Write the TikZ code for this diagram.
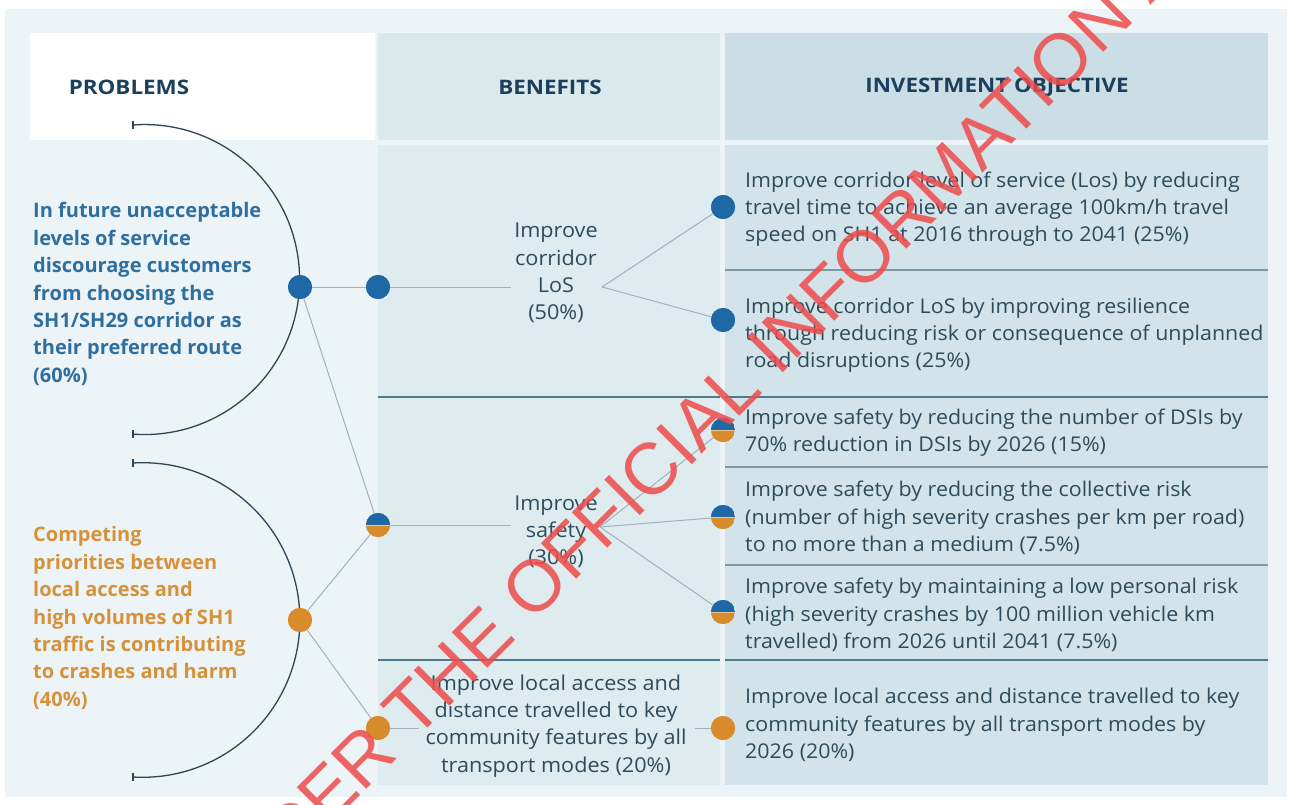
\documentclass[tikz,border=0pt]{standalone}
\usepackage{fontspec}
\setmainfont{Open Sans}
\newfontfamily\widefont{Open Sans}[FakeStretch=1.055]
\newfontfamily\headfont{Open Sans}[FakeStretch=1.12]
\newfontfamily\wmfont{Liberation Sans}

\definecolor{panelbg}{HTML}{EDF4F7}
\definecolor{benhead}{HTML}{DAE9EC}
\definecolor{benbody}{HTML}{DEECEF}
\definecolor{invhead}{HTML}{CCDEE5}
\definecolor{invbody}{HTML}{D2E3E9}
\definecolor{sepdark}{HTML}{4E7A8E}
\definecolor{seplight}{HTML}{7E98A6}
\definecolor{headtext}{HTML}{1B3F5C}
\definecolor{bodytext}{HTML}{2D4B5B}
\definecolor{probblue}{HTML}{2F6FA0}
\definecolor{probor}{HTML}{D5923A}
\definecolor{dotblue}{HTML}{1E69A5}
\definecolor{dotorange}{HTML}{D88B2B}
\definecolor{arccol}{HTML}{2E4556}
\definecolor{linkcol}{HTML}{A2B0B8}
\definecolor{wmred}{HTML}{EE4B4B}

\tikzset{
  head/.style={font=\headfont\fontsize{20}{22}\selectfont\bfseries, text=headtext},
  probtext/.style={anchor=west, align=left, inner sep=0pt,
    font=\fontsize{20}{27.4}\selectfont\bfseries},
  bentext/.style={align=center, inner sep=3pt, text=bodytext,
    font=\widefont\fontsize{20.5}{27.2}\selectfont},
  objtext/.style={anchor=west, align=left, inner sep=0pt, text=bodytext,
    font=\widefont\fontsize{20.3}{27.2}\selectfont},
  dot/.style={circle, inner sep=0pt, minimum size=24pt},
  bluedot/.style={dot, fill=dotblue},
  orangedot/.style={dot, fill=dotorange},
  mixdot/.style={dot, path picture={
      \fill[dotblue] (path picture bounding box.north west) rectangle (path picture bounding box.east);
      \fill[dotorange] (path picture bounding box.west) rectangle (path picture bounding box.south east);
      \draw[white, opacity=0.5, line width=0.8pt] (path picture bounding box.west) -- (path picture bounding box.east);
  }},
  link/.style={draw=linkcol, line width=1pt},
  bracket/.style={draw=arccol, line width=1.3pt},
  rowsep/.style={draw=seplight, line width=1.2pt},
  mainsep/.style={draw=sepdark, line width=1.4pt},
  watermark/.style={text=wmred, opacity=0.85, rotate=45, inner sep=0pt,
    font=\wmfont\fontsize{73}{73}\selectfont}
}

\begin{document}
\begin{tikzpicture}[x=1pt, y=1pt]
  \useasboundingbox (0,0) rectangle (1290,-805);

  % page and panel
  \fill[white] (0,0) rectangle (1290,-805);
  \fill[panelbg] (5,-9) rectangle (1287,-797);

  % column backgrounds
  \fill[white] (30,-33) rectangle (375,-140);
  \fill[benhead] (378,-33) rectangle (720,-140);
  \fill[benbody] (378,-145) rectangle (720,-785);
  \fill[invhead] (725,-33) rectangle (1268,-140);
  \fill[invbody] (725,-145) rectangle (1268,-785);

  % row separators
  \draw[mainsep] (378,-397) -- (720,-397);
  \draw[mainsep] (378,-660) -- (720,-660);
  \draw[rowsep] (725,-270) -- (1268,-270);
  \draw[mainsep] (725,-397) -- (1268,-397);
  \draw[rowsep] (725,-467) -- (1268,-467);
  \draw[rowsep] (725,-565) -- (1268,-565);
  \draw[mainsep] (725,-660) -- (1268,-660);

  % column headings
  \node[head] (hp) at (129,-87) {PROBLEMS};
  \node[head] (hb) at (550,-87) {BENEFITS};
  \node[head] (hi) at (997,-87) {INVESTMENT OBJECTIVE};

  % problem brackets
  \draw[bracket] (133,-125) arc[start angle=94.3, end angle=-94.3, radius=155];
  \draw[bracket] (133,-121) -- (133,-129);
  \draw[bracket] (133,-430) -- (133,-438);
  \draw[bracket] (133,-463) arc[start angle=93.5, end angle=-93.5, radius=157.3];
  \draw[bracket] (133,-459) -- (133,-467);
  \draw[bracket] (133,-773) -- (133,-781);

  % problem statements
  \node[probtext, text=probblue] (pt1) at (33,-294)
    {In future unacceptable\\levels of service\\discourage customers\\from choosing the\\SH1/SH29 corridor as\\their preferred route\\(60\%)};
  \node[probtext, text=probor] (pt2) at (33,-618)
    {Competing\\priorities between\\local access and\\high volumes of SH1\\traffic is contributing\\to crashes and harm\\(40\%)};

  % benefit statements
  \node[bentext] (bt1) at (556,-273) {Improve\\corridor\\LoS\\(50\%)};
  \node[bentext] (bt2) at (556,-532) {Improve\\safety\\(30\%)};
  \node[bentext, inner xsep=6pt] (bt3) at (556,-726)
    {Improve local access and\\distance travelled to key\\community features by all\\transport modes (20\%)};

  % investment objectives
  \node[objtext] (ot1) at (745,-209)
    {Improve corridor level of service (Los) by reducing\\travel time to achieve an average 100km/h travel\\speed on SH1 at 2016 through to 2041 (25\%)};
  \node[objtext] (ot2) at (745,-335)
    {Improve corridor LoS by improving resilience\\through reducing risk or consequence of unplanned\\road disruptions (25\%)};
  \node[objtext] (ot3) at (745,-433)
    {Improve safety by reducing the number of DSIs by\\70\% reduction in DSIs by 2026 (15\%)};
  \node[objtext] (ot4) at (745,-518)
    {Improve safety by reducing the collective risk\\(number of high severity crashes per km per road)\\to no more than a medium (7.5\%)};
  \node[objtext] (ot5) at (745,-615)
    {Improve safety by maintaining a low personal risk\\(high severity crashes by 100 million vehicle km\\travelled) from 2026 until 2041 (7.5\%)};
  \node[objtext] (ot6) at (745,-725)
    {Improve local access and distance travelled to key\\community features by all transport modes by\\2026 (20\%)};

  % fork points of the benefit links
  \coordinate (f1) at (602,-287);
  \coordinate (f2) at (600,-527);
  \coordinate (f3) at (695,-728);

  % dots (placed first so that links can refer to them)
  \node[bluedot] (p1) at (300,-287) {};
  \node[orangedot] (p2) at (300,-620) {};
  \node[bluedot] (b1) at (378,-287) {};
  \node[mixdot] (b2) at (378,-525) {};
  \node[orangedot] (b3) at (378,-728) {};
  \node[bluedot] (o1) at (723,-207) {};
  \node[bluedot] (o2) at (723,-320) {};
  \node[mixdot] (o3) at (723,-430) {};
  \node[mixdot] (o4) at (723,-517) {};
  \node[mixdot] (o5) at (723,-612) {};
  \node[orangedot] (o6) at (723,-728) {};

  % connectors
  \draw[link] (p1) -- (b1);
  \draw[link] (p1) -- (b2);
  \draw[link] (p2) -- (b2);
  \draw[link] (p2) -- (b3);
  \draw[link] (b1) -- (b1 -| bt1.west);
  \draw[link] (f1) -- (o1);
  \draw[link] (f1) -- (o2);
  \draw[link] (b2) -- (b2 -| bt2.west);
  \draw[link] (f2) -- (o3);
  \draw[link] (f2) -- (o4);
  \draw[link] (f2) -- (o5);
  \draw[link] (b3) -- (b3 -| bt3.west);
  \draw[link] (f3) -- (o6);

  % redraw dots over the connectors
  \node[bluedot] at (p1) {};
  \node[orangedot] at (p2) {};
  \node[bluedot] at (b1) {};
  \node[mixdot] at (b2) {};
  \node[orangedot] at (b3) {};
  \node[bluedot] at (o1) {};
  \node[bluedot] at (o2) {};
  \node[mixdot] at (o3) {};
  \node[mixdot] at (o4) {};
  \node[mixdot] at (o5) {};
  \node[orangedot] at (o6) {};

  % release stamp across the sheet
  \begin{scope}
    \clip (0,0) rectangle (1290,-805);
    \coordinate (wm) at (532,-624);
    \node[watermark, anchor=base east] (wm1) at (wm) {RELEASED UNDER THE\hspace*{20pt}\mbox{}};
    \node[watermark, anchor=base west] (wm2) at (wm) {OFFICIAL INFORMATION ACT 1982};
  \end{scope}
\end{tikzpicture}
\end{document}
